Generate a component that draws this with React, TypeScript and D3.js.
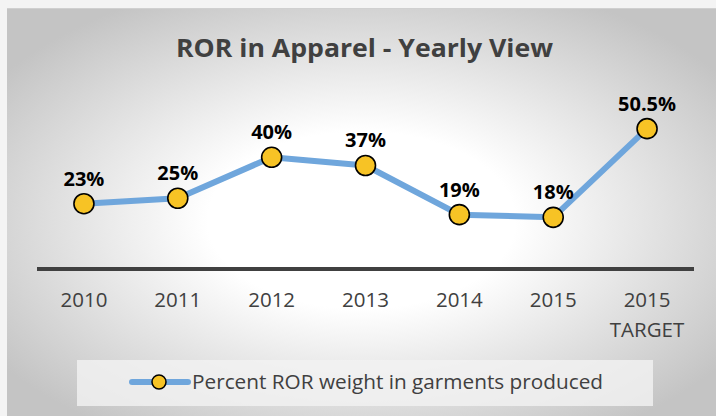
import React from "react";
import * as d3 from "d3";

const categories = ["2010", "2011", "2012", "2013", "2014", "2015", "2015\nTARGET"];
const values = [23, 25, 40, 37, 19, 18, 50.5];
const valueLabels = ["23%", "25%", "40%", "37%", "19%", "18%", "50.5%"];
const seriesName = "Percent ROR weight in garments produced";
const title = "ROR in Apparel - Yearly View";

export default function App() {
  const W = 716, H = 416;
  const x = d3.scaleBand<string>().domain(categories).range([37, 694]);
  const y = d3.scaleLinear().domain([0, 60]).range([266.5, 102.7]);
  const cxOf = (i: number) => (x(categories[i]) as number) + x.bandwidth() / 2;
  const line = d3.line<number>()
    .x((_, i) => cxOf(i))
    .y((d) => y(d));
  const font = "'Open Sans', Lato, sans-serif";
  return (
    <svg width={W} height={H} style={{ position: "absolute", left: 0, top: 0 }}>
      <defs>
        <radialGradient id="bg" cx="0.5" cy="0.52" r="0.62" gradientUnits="objectBoundingBox">
          <stop offset="0" stopColor="#ffffff" />
          <stop offset="0.35" stopColor="#ffffff" />
          <stop offset="1" stopColor="#c4c4c4" />
        </radialGradient>
      </defs>
      <rect x={0} y={0} width={W} height={H} fill="#f4f4f4" />
      <rect x={7} y={8} width={W - 7} height={H - 8} fill="url(#bg)" />
      <line x1={7} x2={W} y1={8.5} y2={8.5} stroke="#d0d0d0" strokeWidth={1} />
      <text x={364.5} y={57} textAnchor="middle" fontFamily={font} fontWeight="bold" fontSize={25}
        fill="#404040" textLength={377} lengthAdjust="spacingAndGlyphs">
        {title}
      </text>
      <line x1={37} x2={694} y1={y(0) + 2.5} y2={y(0) + 2.5} stroke="#404040" strokeWidth={4} />
      {categories.map((c, i) => {
        const cx = cxOf(i);
        return (
          <text key={i} x={cx} y={307} textAnchor="middle" fontFamily={font} fontSize={20.5} fill="#404040">
            {c.split("\n").map((t, j) => (
              <tspan key={j} x={cx} dy={j === 0 ? 0 : 30}>{t}</tspan>
            ))}
          </text>
        );
      })}
      <path d={line(values) || ""} fill="none" stroke="#6fa6dc" strokeWidth={6} strokeLinejoin="round" />
      {values.map((v, i) => {
        const cx = cxOf(i);
        return (
          <g key={i}>
            <circle cx={cx} cy={y(v)} r={10} fill="#f7c325" stroke="#000" strokeWidth={1.6} />
            <text x={cx} y={y(v) - 18} textAnchor="middle" fontFamily={font} fontWeight="bold" fontSize={20} fill="#000">
              {valueLabels[i]}
            </text>
          </g>
        );
      })}
      <rect x={77} y={360} width={576} height={46} fill="#f2f2f2" opacity={0.8} />
      <line x1={132} x2={188} y1={382} y2={382} stroke="#6fa6dc" strokeWidth={6} strokeLinecap="round" />
      <circle cx={159} cy={382} r={7} fill="#f7c325" stroke="#000" strokeWidth={1.5} />
      <text x={192} y={389} fontFamily={font} fontSize={20} fill="#404040"
        textLength={411} lengthAdjust="spacingAndGlyphs">{seriesName}</text>
    </svg>
  );
}
